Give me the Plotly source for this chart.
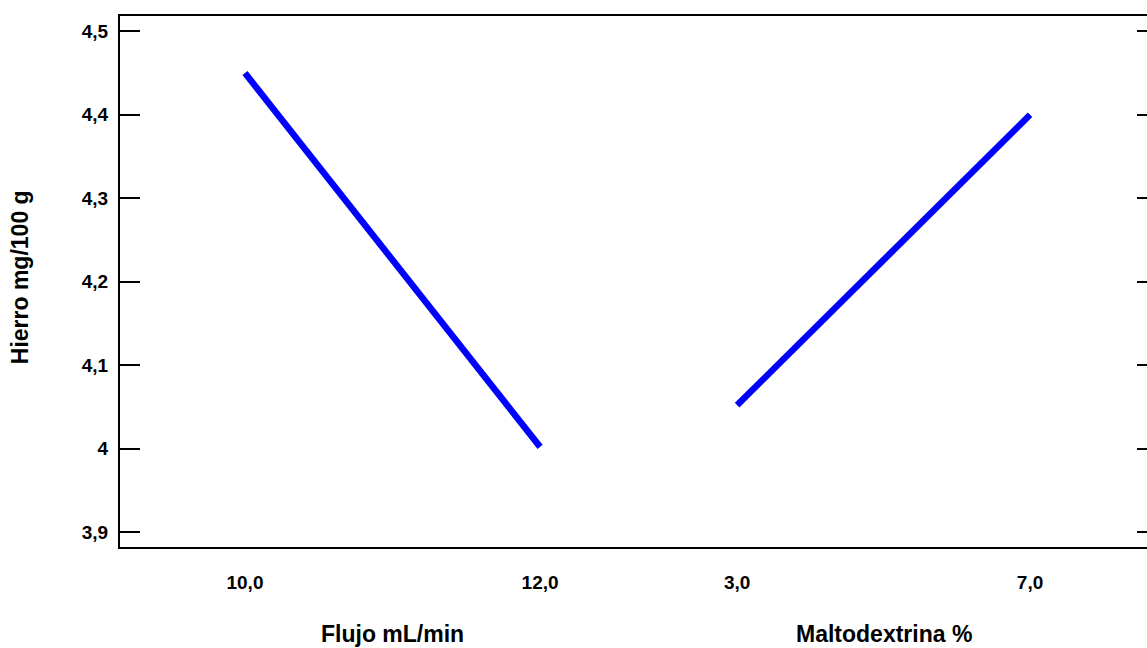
import plotly.graph_objects as go

# Data
flujo_levels = [10.0, 12.0]
flujo_hierro = [4.45, 4.002]
malto_levels = [3.0, 7.0]
malto_hierro = [4.052, 4.40]

y_tickvals = [3.9, 4.0, 4.1, 4.2, 4.3, 4.4, 4.5]
y_ticktext = ["3,9", "4", "4,1", "4,2", "4,3", "4,4", "4,5"]
flujo_ticktext = ["10,0", "12,0"]
malto_ticktext = ["3,0", "7,0"]

y_title = "Hierro mg/100 g"
x1_title = "Flujo mL/min"
x2_title = "Maltodextrina %"

FONT = "Liberation Sans, Arial, sans-serif"
BLUE = "#0000FF"
Y_RANGE = [3.882, 4.5184]

fig = go.Figure()
fig.add_trace(go.Scatter(x=flujo_levels, y=flujo_hierro, mode="lines",
                         line=dict(color=BLUE, width=6.5), xaxis="x", yaxis="y",
                         showlegend=False, hoverinfo="x+y"))
fig.add_trace(go.Scatter(x=malto_levels, y=malto_hierro, mode="lines",
                         line=dict(color=BLUE, width=6.5), xaxis="x2", yaxis="y2",
                         showlegend=False, hoverinfo="x+y"))

split = 0.505
tick_font = dict(family=FONT, size=19, color="black", weight="bold")
title_font = dict(family=FONT, size=23, color="black", weight="bold")

fig.update_layout(
    width=1147, height=648,
    margin=dict(l=120, r=0, t=16, b=101),
    paper_bgcolor="white", plot_bgcolor="white",
    showlegend=False,
    xaxis=dict(domain=[0, split], range=[9.153, 12.668], anchor="y",
               tickvals=flujo_levels, ticktext=flujo_ticktext,
               ticks="", showgrid=False, zeroline=False,
               showline=True, linecolor="black", linewidth=2, mirror=True,
               tickfont=tick_font, ticklabelstandoff=17),
    xaxis2=dict(domain=[split, 1], range=[1.655, 8.597], anchor="y2",
                tickvals=malto_levels, ticktext=malto_ticktext,
                ticks="", showgrid=False, zeroline=False,
                showline=True, linecolor="black", linewidth=2, mirror=True,
                tickfont=tick_font, ticklabelstandoff=17),
    yaxis=dict(range=Y_RANGE, tickvals=y_tickvals, ticktext=y_ticktext,
               anchor="x",
               ticks="inside", ticklen=20, tickwidth=2, tickcolor="black",
               showgrid=False, zeroline=False,
               showline=True, linecolor="black", linewidth=2, mirror=False,
               tickfont=tick_font, ticklabelstandoff=6),
    yaxis2=dict(range=Y_RANGE, tickvals=y_tickvals, overlaying="y",
                side="right", anchor="x2", showticklabels=False,
                ticks="inside", ticklen=10, tickwidth=2, tickcolor="black",
                showgrid=False, zeroline=False,
                showline=True, linecolor="black", linewidth=2),
    annotations=[
        dict(text=x1_title, x=11.0, xref="x", y=-0.164, yref="paper",
             xanchor="center", yanchor="middle", showarrow=False,
             font=title_font),
        dict(text=x2_title, x=5.0, xref="x2", y=-0.164, yref="paper",
             xanchor="center", yanchor="middle", showarrow=False,
             font=title_font),
        dict(text=y_title, x=-0.0974, xref="paper", y=0.508, yref="paper",
             xanchor="center", yanchor="middle", showarrow=False, textangle=-90,
             font=title_font),
    ],
)

fig.write_html("out.html",
               config={"displayModeBar": False},
               post_script="document.body.style.margin='0';document.body.style.overflow='hidden';")
